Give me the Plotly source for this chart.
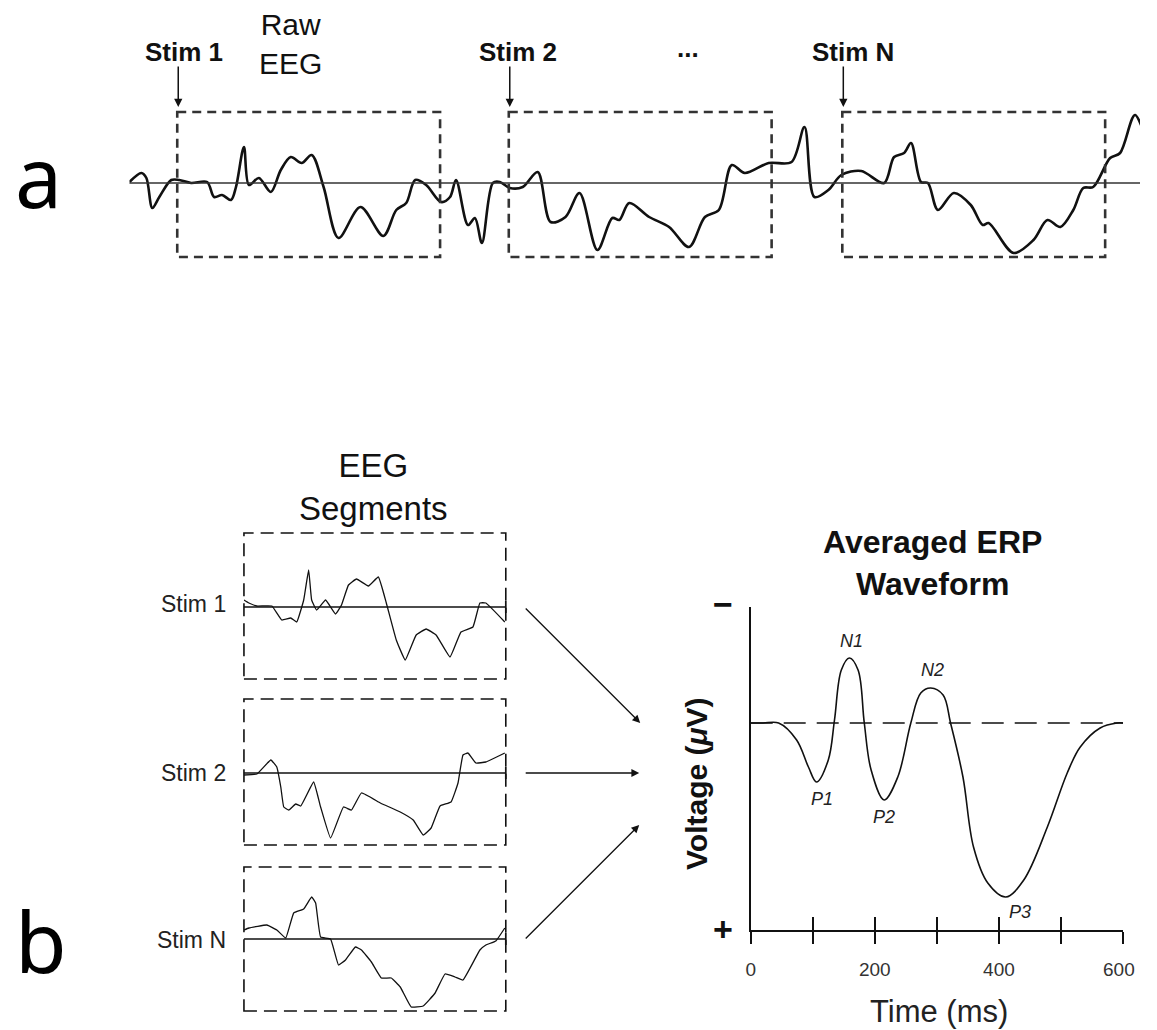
import plotly.graph_objects as go

# figure size in px; drawing positions below are given in page pixels
W, H = 1140, 1030

# ---------------- continuous raw EEG (samples, uV; negative drawn upward) ----------------
raw_t = [0, 12, 17, 23, 30, 42, 50, 62, 78, 85, 93, 102, 107, 115, 120, 130, 142, 152, 162, 173,
         183, 195, 210, 232, 255, 268, 278, 287, 298, 313, 322, 328, 340, 347, 354, 365, 372, 382,
         395, 410, 423, 438, 452, 470, 485, 492, 502, 522, 542, 562, 578, 592, 605, 618, 642, 665,
         678, 688, 702, 715, 735, 758, 768, 778, 785, 795, 802, 812, 828, 845, 857, 863, 888, 908,
         922, 935, 948, 958, 968, 985, 995, 1010, 1022, 1032]
raw_uv = [-0.1, -1.0, -0.5, 2.5, 1.4, -0.3, -0.3, 0.0, -0.1, 1.4, 1.2, 1.7, 0.4, -3.6, 0.2, -0.5,
          0.9, -1.3, -2.6, -2.0, -2.8, 0.4, 5.5, 2.4, 5.3, 2.7, 2.0, -0.3, 0.2, 1.9, 1.4, -0.3, 4.2,
          3.5, 6.0, 0.0, -0.1, 0.5, 0.4, -1.1, 3.9, 3.4, 1.0, 6.7, 3.5, 3.7, 2.0, 3.4, 4.4, 6.4, 3.4,
          2.7, -1.8, -1.0, -2.0, -2.1, -5.6, 1.4, 0.7, -0.8, -1.2, 0.0, -2.6, -3.0, -4.0, -0.1, 0.0,
          2.7, 1.0, 2.2, 4.2, 4.0, 7.0, 5.7, 3.7, 4.4, 2.7, 0.5, 0.4, -2.5, -3.0, -6.8, -4.8, -5.8]

stim_labels = ["Stim 1", "Stim 2", "Stim N"]
stim_onsets = [48, 381, 716]
epoch_len = 264

# ---------------- single-trial EEG segments (samples after onset, uV) ----------------
seg1_t = [0, 5, 13, 28, 38, 47, 53, 60, 65, 68, 73, 82, 92, 98, 105, 113, 125, 135, 143, 153,
          162, 173, 183, 193, 207, 218, 230, 237, 243, 262]
seg1_uv = [-0.7, -0.4, -0.1, -0.1, 1.3, 1.1, 1.5, -0.7, -3.7, -0.7, 0.3, -0.7, 0.7, -0.2, -2.2,
           -2.8, -2.1, -3.0, -0.4, 3.3, 5.3, 2.8, 2.2, 2.8, 5.0, 2.5, 2.0, -0.4, -0.4, 1.5]

seg2_t = [0, 13, 27, 33, 37, 40, 45, 52, 57, 70, 77, 87, 100, 108, 118, 137, 157, 170, 180, 188,
          197, 208, 215, 220, 225, 233, 243, 262]
seg2_uv = [0.2, 0.1, -1.3, -0.6, 1.4, 3.4, 3.7, 3.1, 3.3, 0.9, 3.4, 6.5, 3.4, 3.7, 2.0, 3.0, 3.9,
           4.7, 6.2, 5.5, 3.3, 2.9, 1.0, -1.8, -2.0, -1.0, -1.1, -2.0]

seg3_t = [0, 5, 23, 33, 42, 50, 60, 68, 72, 77, 87, 95, 102, 112, 118, 128, 138, 148, 157, 168,
          180, 192, 202, 212, 220, 237, 243, 253, 262]
seg3_uv = [-0.9, -1.1, -1.4, -0.9, -0.1, -2.6, -3.0, -4.2, -3.6, -0.2, 0.0, 2.6, 2.1, 0.8, 1.1,
           2.3, 3.9, 3.9, 4.8, 6.8, 6.7, 5.4, 3.5, 3.8, 4.1, 1.1, 0.6, 0.2, -1.1]

# ---------------- averaged ERP waveform (ms, uV; negative up) ----------------
erp_t = [0, 20, 45, 74, 93, 106, 125, 135, 146, 159, 173, 183, 194, 215, 237, 258, 274, 290,
         310, 322, 342, 359, 382, 411, 440, 478, 510, 531, 563, 590, 600]
erp_uv = [0, 0, 0, 0.85, 2.2, 2.95, 1.85, -0.15, -2.65, -3.25, -2.65, 0, 2.35, 3.85, 2.7, 0,
          -1.5, -1.75, -1.4, 0, 2.7, 6.2, 8.0, 8.7, 7.85, 5.2, 2.5, 1.2, 0.25, 0, 0]

peak_names = ["P1", "N1", "P2", "N2", "P3"]
peak_t = [106, 159, 215, 290, 411]
peak_uv = [2.95, -3.25, 3.85, -1.75, 8.7]

time_ticks = [0, 100, 200, 300, 400, 500, 600]
time_ticklabels = ["0", "", "200", "", "400", "", "600"]

SANS = "Liberation Sans, Arial, Helvetica, sans-serif"
INK = "#111111"
TICK_FONT = dict(family=SANS, size=19, color="#333333")

# raw trace: 1 sample per px starting at x=125 px; the view ends at the figure edge
RAW_X0 = 125
raw_view = W - RAW_X0


def xd(a, b):
    return [a / W, min(b / W, 1.0)]


def yd(top, bot):
    return [1 - bot / H, 1 - top / H]


def px(x):
    return x / W


def py(y):
    return 1 - y / H


fig = go.Figure()

# raw EEG trace
fig.add_trace(go.Scatter(x=raw_t, y=raw_uv, mode="lines", xaxis="x", yaxis="y",
                         line=dict(color=INK, width=2.6, shape="spline", smoothing=0.9),
                         hoverinfo="skip", showlegend=False))

# segments
for i, (st, su) in enumerate([(seg1_t, seg1_uv), (seg2_t, seg2_uv), (seg3_t, seg3_uv)]):
    k = i + 2
    fig.add_trace(go.Scatter(x=st, y=su, mode="lines", xaxis=f"x{k}", yaxis=f"y{k}",
                             line=dict(color=INK, width=1.3, shape="spline", smoothing=0.3),
                             hoverinfo="skip", showlegend=False))

# averaged ERP
fig.add_trace(go.Scatter(x=erp_t, y=erp_uv, mode="lines", xaxis="x5", yaxis="y5",
                         line=dict(color=INK, width=1.6, shape="spline", smoothing=1.0),
                         hoverinfo="skip", showlegend=False))
# carrier for the inner-tick overlay axis
fig.add_trace(go.Scatter(x=[0, 600], y=[None, None], mode="lines", xaxis="x6", yaxis="y5",
                         hoverinfo="skip", showlegend=False))

hidden = dict(visible=False, showgrid=False, zeroline=False, fixedrange=True)

# the last tick label sits at the right page edge, so it is set as a right-anchored note
axis_ticktext = time_ticklabels[:-1] + [""]

layout_axes = dict(
    xaxis=dict(domain=xd(RAW_X0, W), range=[0, raw_view], anchor="y", **hidden),
    yaxis=dict(domain=yd(95, 275), range=[9.2, -8.8], anchor="x", **hidden),
    xaxis2=dict(domain=xd(240, 503), range=[0, 263], anchor="y2", **hidden),
    yaxis2=dict(domain=yd(533, 679), range=[7.2, -7.4], anchor="x2", **hidden),
    xaxis3=dict(domain=xd(240, 503), range=[0, 263], anchor="y3", **hidden),
    yaxis3=dict(domain=yd(699, 845), range=[7.2, -7.4], anchor="x3", **hidden),
    xaxis4=dict(domain=xd(240, 503), range=[0, 263], anchor="y4", **hidden),
    yaxis4=dict(domain=yd(867, 1011), range=[7.2, -7.2], anchor="x4", **hidden),
    xaxis5=dict(domain=xd(749, 1123), range=[0, 600], anchor="y5", showgrid=False,
                zeroline=False, showline=True, linecolor=INK, linewidth=2,
                ticks="outside", ticklen=12, tickwidth=1.6, tickcolor=INK,
                tickvals=time_ticks, ticktext=axis_ticktext, ticklabelstandoff=9,
                tickfont=TICK_FONT, fixedrange=True),
    xaxis6=dict(domain=xd(749, 1123), range=[0, 600], anchor="y5", overlaying="x5",
                showgrid=False, zeroline=False, showline=False, ticks="inside",
                ticklen=13, tickwidth=1.6, tickcolor=INK, tickvals=time_ticks,
                showticklabels=False, fixedrange=True),
    yaxis5=dict(domain=yd(607, 930), range=[10.35, -5.8], anchor="x5", showgrid=False,
                zeroline=False, showline=True, linecolor=INK, linewidth=2,
                showticklabels=False, ticks="", fixedrange=True),
)

shapes = []
# raw EEG zero line
shapes.append(dict(type="line", xref="x domain", x0=0, x1=1, yref="y", y0=0, y1=0,
                   line=dict(color="#333333", width=1.3)))
# epoch windows on the raw EEG
for on in stim_onsets:
    shapes.append(dict(type="rect", xref="x", x0=on, x1=on + epoch_len, yref="y",
                       y0=-7.1, y1=7.4, line=dict(color="#333333", width=2.6, dash="9px,6px"),
                       fillcolor="rgba(0,0,0,0)"))
# segment frames, zero lines and end ticks
for k in (2, 3, 4):
    shapes.append(dict(type="rect", xref=f"x{k} domain", x0=0, x1=1, yref=f"y{k} domain",
                       y0=0, y1=1, line=dict(color=INK, width=1.6, dash="13px,7px"),
                       fillcolor="rgba(0,0,0,0)"))
    shapes.append(dict(type="line", xref=f"x{k} domain", x0=0, x1=1, yref=f"y{k}",
                       y0=0, y1=0, line=dict(color=INK, width=1.7)))
    shapes.append(dict(type="line", xref=f"x{k} domain", x0=1, x1=1, yref=f"y{k}",
                       y0=-0.6, y1=0.6, line=dict(color=INK, width=1.7)))
# ERP baseline
shapes.append(dict(type="line", xref="x5", x0=0, x1=600, yref="y5", y0=0, y1=0,
                   line=dict(color=INK, width=1.6, dash="22px,11px")))

ann = []


def text(x, y, s, size, bold=False, italic=False, family=SANS, anchor="center",
         color=INK, angle=0):
    if bold:
        s = f"<b>{s}</b>"
    if italic:
        s = f"<i>{s}</i>"
    ann.append(dict(x=px(x), y=py(y), xref="paper", yref="paper", text=s, showarrow=False,
                    xanchor=anchor, yanchor="middle", textangle=angle,
                    font=dict(family=family, size=size, color=color)))


# stimulus arrows and labels on the raw EEG
for lab, on, off in zip(stim_labels, stim_onsets, [7, 9, 11]):
    ann.append(dict(x=on + 1, y=-7.6, xref="x", yref="y", text="", showarrow=True,
                    ax=0, ay=-42, arrowhead=2, arrowsize=1.1, arrowwidth=1.5,
                    arrowcolor=INK))
    ann.append(dict(x=on + off, y=py(52), xref="x", yref="paper", text=f"<b>{lab}</b>",
                    showarrow=False, xanchor="center", yanchor="middle",
                    font=dict(family=SANS, size=26, color=INK)))
text(686, 48, "...", 26, bold=True)
text(287, 44, "Raw<br>EEG", 30)

# panel letters
text(34, 176, "a", 84, family="Noto Sans, Open Sans, sans-serif", color="#000000")
text(36, 940, "b", 84, family="Noto Sans, Open Sans, sans-serif", color="#000000")

# segment panel
text(370, 487, "EEG<br>Segments", 33)
for lab, yy in zip(stim_labels, [604, 773, 940]):
    text(224, yy, lab, 23, anchor="right", color="#222222")

# arrows from segments into the average
for (x0, y0), (x1, y1) in [((522, 607), (638, 723)), ((522, 773), (637, 773)),
                           ((522, 940), (637, 825))]:
    ann.append(dict(x=px(x1), y=py(y1), xref="paper", yref="paper", text="",
                    showarrow=True, ax=x0 - x1, ay=y0 - y1, arrowhead=2, arrowsize=1.2,
                    arrowwidth=1.3, arrowcolor=INK))

# last time-axis label, kept inside the page
ann.append(dict(x=time_ticks[-1], y=py(969), xref="x5", yref="paper",
                text=time_ticklabels[-1], showarrow=False, xanchor="right",
                yanchor="middle", xshift=14, font=TICK_FONT))

# averaged ERP panel
text(932, 563, "Averaged ERP<br>Waveform", 32, bold=True)
text(938, 1011, "Time (ms)", 31, color="#222222")
text(694, 783, "Voltage (<i>μ</i>V)", 30, bold=True, angle=-90)
text(721, 604, "−", 34, bold=True)
text(721, 929, "+", 34, bold=True)

label_shift = {"P1": (6, -17), "N1": (2, 17), "P2": (0, -17), "N2": (2, 18), "P3": (14, -15)}
for nm, t, v in zip(peak_names, peak_t, peak_uv):
    dx, dy = label_shift[nm]
    ann.append(dict(x=t, y=v, xref="x5", yref="y5", text=f"<i>{nm}</i>", showarrow=False,
                    xshift=dx, yshift=dy, xanchor="center", yanchor="middle",
                    font=dict(family=SANS, size=18, color="#222222")))

fig.update_layout(
    width=W, height=H, autosize=False,
    margin=dict(l=0, r=0, t=0, b=0, pad=0),
    paper_bgcolor="white", plot_bgcolor="white",
    showlegend=False, shapes=shapes, annotations=ann,
    **layout_axes,
)

fig.write_html("out.html", config={"displayModeBar": False, "staticPlot": True})
